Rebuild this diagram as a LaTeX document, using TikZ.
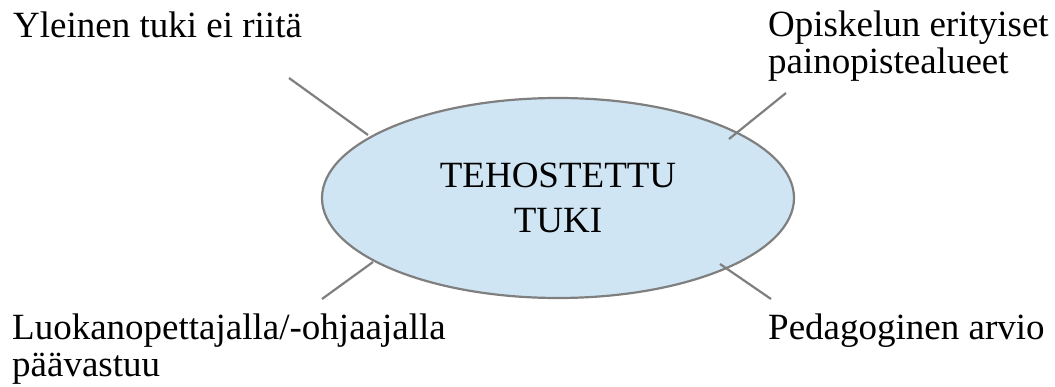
\documentclass[tikz,border=0pt]{standalone}
\usepackage{fontspec}
\setmainfont{Liberation Serif}
\usetikzlibrary{shapes.geometric}
\definecolor{tukifill}{HTML}{CFE5F4}
\definecolor{tukigray}{HTML}{7F7F7F}
\tikzset{
  label text/.style={font=\fontsize{37}{37.5}\selectfont,inner sep=0pt,align=left,anchor=base west},
  spoke/.style={draw=tukigray,line width=2.2pt},
}
\begin{document}
\begin{tikzpicture}[x=1pt,y=-1pt]
\useasboundingbox(0,0)rectangle(1055,387);
\node[ellipse,draw=tukigray,fill=tukifill,line width=2.2pt,minimum width=472pt,minimum height=200pt,inner sep=0pt,align=center,font=\fontsize{37}{45}\selectfont](tuki)at(558,198){TEHOSTETTU\\TUKI};
\node[label text](yleinen)at(13,38){Yleinen tuki ei riitä};
\node[label text](opiskelu)at(768,74){Opiskelun erityiset\\painopistealueet};
\node[label text](luokan)at(12,377){Luokanopettajalla/-ohjaajalla\\päävastuu};
\node[label text](arvio)at(768,339){Pedagoginen arvio};
\coordinate(ul)at(289,78);\coordinate(ul')at(368,135);
\coordinate(ur)at(786,93);\coordinate(ur')at(729,139);
\coordinate(lr)at(771,299);\coordinate(lr')at(720,264);
\coordinate(ll)at(322,299);\coordinate(ll')at(373,262);
\foreach\a in{ul,ur,lr,ll}{\draw[spoke](\a)--(\a');}
\end{tikzpicture}
\end{document}
